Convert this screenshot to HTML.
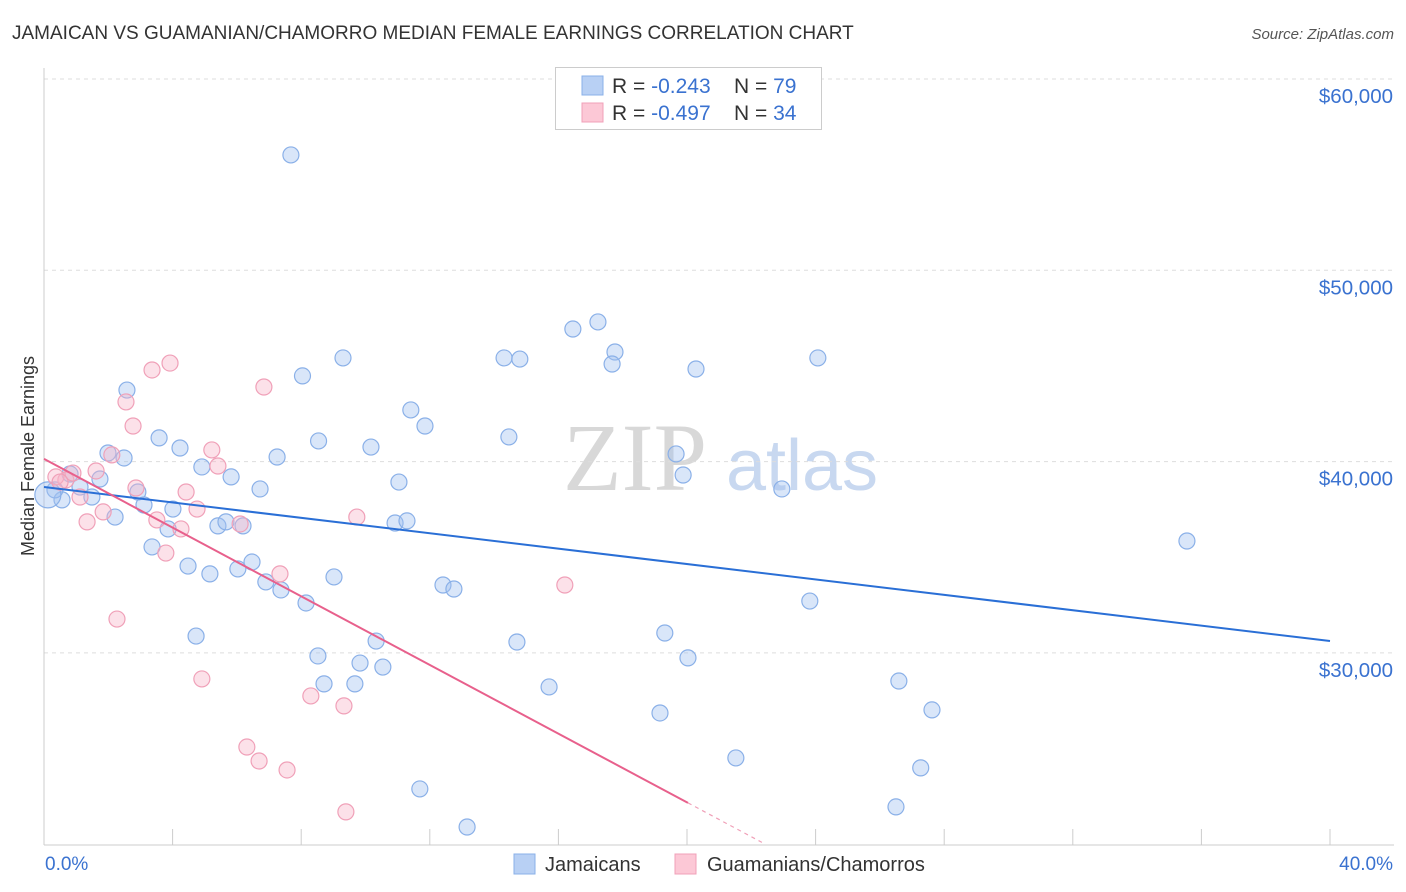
<!DOCTYPE html>
<html><head><meta charset="utf-8"><style>
body{margin:0;background:#fff;font-family:"Liberation Sans",sans-serif;}
svg{display:block}
</style></head><body>
<svg id="chart" width="1406" height="892">
<text x="12" y="39" font-size="19" fill="#333">JAMAICAN VS GUAMANIAN/CHAMORRO MEDIAN FEMALE EARNINGS CORRELATION CHART</text>
<text x="1394" y="39" font-size="15" fill="#555" font-style="italic" text-anchor="end">Source: ZipAtlas.com</text>
<text x="635" y="490" font-size="96" fill="#d8d8d8" font-family="Liberation Serif,serif" text-anchor="middle">ZIP</text>
<text x="802" y="490" font-size="72" fill="#c8d8f0" text-anchor="middle">atlas</text>
<text transform="translate(34,456) rotate(-90)" font-size="18" fill="#333" text-anchor="middle">Median Female Earnings</text>
<g id="grid"></g><g id="marks"></g>
<g>
<rect x="555.5" y="67.5" width="266" height="62" fill="#fff" stroke="#ccc"/>
<rect x="582" y="76" width="21" height="19" fill="#b8d0f4" stroke="#8ab0e8"/>
<rect x="582" y="103" width="21" height="19" fill="#fcc8d6" stroke="#f0a0b8"/>
<text x="612" y="93" font-size="21" fill="#333">R = <tspan fill="#3a72d0">-0.243</tspan><tspan x="734">N = </tspan><tspan fill="#3a72d0">79</tspan></text>
<text x="612" y="120" font-size="21" fill="#333">R = <tspan fill="#3a72d0">-0.497</tspan><tspan x="734">N = </tspan><tspan fill="#3a72d0">34</tspan></text>
</g>
<g>
<rect x="514" y="854" width="21" height="20" fill="#b8d0f4" stroke="#8ab0e8"/>
<text x="545" y="871" font-size="20" fill="#333">Jamaicans</text>
<rect x="675" y="854" width="21" height="20" fill="#fcc8d6" stroke="#f0a0b8"/>
<text x="707" y="871" font-size="20" fill="#333">Guamanians/Chamorros</text>
</g>
</svg>
<script>
const blueX=[7.68,2.58,3.58,4.23,2.49,1.99,4.91,5.82,6.72,7.25,8.04,8.54,9.30,10.17,11.04,11.41,11.85,10.92,11.29,14.31,14.80,14.46,16.45,17.23,17.76,17.67,19.66,19.88,20.28,22.95,24.07,35.55,1.74,1.49,1.12,0.81,0.56,0.34,0.12,2.21,2.92,3.11,3.86,4.01,3.36,4.48,5.16,5.41,5.66,6.19,6.03,6.47,6.90,7.37,8.15,9.02,4.73,8.52,8.71,9.67,9.83,10.54,10.33,12.41,12.75,14.71,15.71,19.31,20.03,19.16,21.52,23.82,26.59,27.62,27.27,26.50,11.69,13.16];
const blueY=[56030,43740,41240,40710,40190,40450,39720,39200,38570,40240,44480,41080,45420,40760,38930,42700,41860,36790,36900,45420,45360,41290,46930,47300,45730,45100,40400,39300,44840,38570,45420,35850,39090,38150,38670,39350,38000,38520,38260,37100,38410,37730,36480,37520,35540,34540,34130,36640,36850,36640,34390,34750,33710,33290,32610,33970,30880,29840,28380,28380,29470,29260,30620,33550,33340,30570,28220,31040,29740,26860,24510,32710,28530,27020,23990,21950,22890,20900];
const pinkX=[3.92,3.36,2.55,6.84,2.77,5.22,5.41,1.62,2.11,2.86,4.42,4.76,6.10,3.51,4.26,3.79,1.84,1.34,0.68,0.37,9.73,16.20,7.34,2.27,4.91,8.30,9.33,6.31,6.69,7.56,9.39,1.12,0.90,0.50];
const pinkY=[45150,44790,43120,43900,41860,40610,39770,39510,40350,38620,38410,37520,36740,36950,36480,35220,37370,36850,39040,39200,37100,33550,34130,31770,28640,27750,27230,25080,24350,23880,21690,38150,39400,38930];
const blueTrend=[38670,30620]; // at x=0 and x=40
const pinkTrend=[40140,22160]; // at x=0 and x=20.03
const pinkTrendEnd=20.03;
const yTicks=[30000,40000,50000,60000];
const yTickLabels=["$30,000","$40,000","$50,000","$60,000"];
const xLabels=["0.0%","40.0%"];

const X=v=>44+v/40*1286;
const Y=v=>79+(60000-v)*0.01913;
const NS="http://www.w3.org/2000/svg";
function mk(tag,attrs,parent){const e=document.createElementNS(NS,tag);for(const k in attrs)e.setAttribute(k,attrs[k]);parent.appendChild(e);return e;}
const grid=document.getElementById('grid'),marks=document.getElementById('marks');
mk('line',{x1:44,y1:79,x2:1394,y2:79,stroke:'#ddd','stroke-dasharray':'4,4'},grid);
yTicks.forEach((t,i)=>{
  const l=mk('line',{x1:44,y1:Y(t),x2:1394,y2:Y(t),stroke:'#ddd','stroke-dasharray':'4,4'},grid);
  
  
  const tx=mk('text',{x:1393,y:Y(t)+24,'font-size':20.5,fill:'#3a72d0','text-anchor':'end'},grid);
  tx.textContent=yTickLabels[i];
  
  
});
mk('line',{x1:44,y1:68,x2:44,y2:845,stroke:'#ccc'},grid);
mk('line',{x1:44,y1:845,x2:1394,y2:845,stroke:'#ccc'},grid);
for(let i=0;i<=10;i++){const t=mk('line',{x1:X(i*4),y1:829,x2:X(i*4),y2:845,stroke:'#ccc'},grid);
  
  }
[[45,'start',0],[1393,'end',1]].forEach(a=>{const t=mk('text',{x:a[0],y:870,'font-size':19,fill:'#3a72d0','text-anchor':a[1]},grid);t.textContent=xLabels[a[2]];
  
  });
blueX.forEach((x,i)=>{const c=mk('circle',{cx:X(x),cy:Y(blueY[i]),r:i==38?13:8,fill:'rgba(160,192,240,0.4)',stroke:'#8ab0e8','stroke-width':1.2},marks);
  
  });
pinkX.forEach((x,i)=>{const c=mk('circle',{cx:X(x),cy:Y(pinkY[i]),r:8,fill:'rgba(248,180,200,0.4)',stroke:'#f0a0b8','stroke-width':1.2},marks);
  
  });
const bl=mk('line',{x1:X(0),y1:Y(blueTrend[0]),x2:X(40),y2:Y(blueTrend[1]),stroke:'#2a6fd6','stroke-width':2},marks);


const pl=mk('line',{x1:X(0),y1:Y(pinkTrend[0]),x2:X(pinkTrendEnd),y2:Y(pinkTrend[1]),stroke:'#e8608c','stroke-width':2},marks);


const slope=(pinkTrend[1]-pinkTrend[0])/pinkTrendEnd;
const xe=pinkTrendEnd+2.3;
const pd=mk('line',{x1:X(pinkTrendEnd),y1:Y(pinkTrend[1]),x2:X(xe),y2:Y(pinkTrend[0]+slope*xe),stroke:'#f0a0b8','stroke-width':1.2,'stroke-dasharray':'4,4'},marks);


</script>
</body></html>
